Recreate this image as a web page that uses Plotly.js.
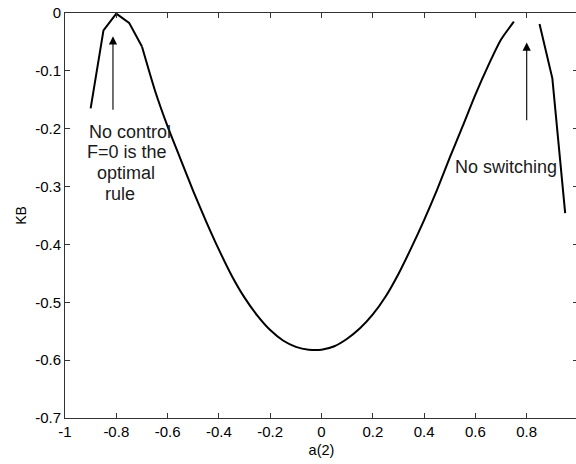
<!DOCTYPE html>
<html><head><meta charset="utf-8">
<script src="https://cdn.plot.ly/plotly-3.0.1.min.js"></script>
<style>html,body{margin:0;padding:0;overflow:hidden;background:#fff}#plot{width:592px;height:464px}</style>
</head><body><div id="plot"></div>
<script>
// main branch a(2) and KB values
const a2Main = [-0.9,-0.85,-0.8,-0.75,-0.7,-0.65,-0.6,-0.55,-0.5,-0.45,-0.4,-0.35,-0.3,-0.25,-0.2,-0.15,-0.1,-0.05,0,0.05,0.1,0.15,0.2,0.25,0.3,0.35,0.4,0.45,0.5,0.55,0.6,0.65,0.7,0.75];
const kbMain = [-0.165,-0.030,-0.001,-0.017,-0.058,-0.133,-0.196,-0.252,-0.308,-0.360,-0.409,-0.454,-0.492,-0.523,-0.548,-0.566,-0.577,-0.582,-0.582,-0.576,-0.563,-0.545,-0.521,-0.490,-0.451,-0.406,-0.358,-0.306,-0.250,-0.196,-0.141,-0.091,-0.046,-0.015];
// right branch
const a2Right = [0.85,0.9,0.95];
const kbRight = [-0.019,-0.113,-0.346];
// ticks
const xTickVals = [-1,-0.8,-0.6,-0.4,-0.2,0,0.2,0.4,0.6,0.8];
const xTickText = ['-1','-0.8','-0.6','-0.4','-0.2','0','0.2','0.4','0.6','0.8'];
const yTickVals = [0,-0.1,-0.2,-0.3,-0.4,-0.5,-0.6,-0.7];
const yTickText = ['0','-0.1','-0.2','-0.3','-0.4','-0.5','-0.6','-0.7'];
// annotation texts
const leftNoteLines = ['No control','F=0 is the','optimal','rule'];
const rightNote = 'No switching';

const FONT = 'Liberation Sans, Arial, sans-serif';
const lineStyle = {color:'#000', width:2};
const splitAt = 4; // index of a(2) = -0.7
const traces = [
  {x:a2Main.slice(0, splitAt+1), y:kbMain.slice(0, splitAt+1), type:'scatter', mode:'lines', line:lineStyle, hoverinfo:'skip'},
  {x:a2Main.slice(splitAt), y:kbMain.slice(splitAt), type:'scatter', mode:'lines', line:Object.assign({shape:'spline', smoothing:0.6}, lineStyle), hoverinfo:'skip'},
  {x:a2Right, y:kbRight, type:'scatter', mode:'lines', line:lineStyle, hoverinfo:'skip'}
];

const leftPos = [[-0.748,-0.205],[-0.758,-0.2406],[-0.761,-0.277],[-0.786,-0.313]];
const annotations = leftNoteLines.map((t,i)=>({
  x:leftPos[i][0], y:leftPos[i][1], xref:'x', yref:'y', text:t, showarrow:false,
  xanchor:'center', yanchor:'middle', font:{family:FONT, size:18, color:'#1a1a1a'}
}));
annotations.push({x:0.718, y:-0.2655, xref:'x', yref:'y', text:rightNote, showarrow:false,
  xanchor:'center', yanchor:'middle', font:{family:FONT, size:18, color:'#1a1a1a'}});
// arrows
annotations.push({x:-0.813, y:-0.040, ax:-0.813, ay:-0.170, xref:'x', yref:'y', axref:'x', ayref:'y',
  text:'', showarrow:true, arrowhead:2, arrowsize:1.5, arrowwidth:1.1, arrowcolor:'#000', standoff:0});
annotations.push({x:0.800, y:-0.051, ax:0.800, ay:-0.188, xref:'x', yref:'y', axref:'x', ayref:'y',
  text:'', showarrow:true, arrowhead:2, arrowsize:1.5, arrowwidth:1.1, arrowcolor:'#000', standoff:0});

const axisCommon = {
  showgrid:false, zeroline:false, showline:true, linecolor:'#333', linewidth:1,
  ticks:'inside', ticklen:5, tickcolor:'#333', tickwidth:1, mirror:'ticks',
  tickfont:{family:FONT, size:15, color:'#000'}
};
const layout = {
  width:592, height:464,
  margin:{l:65, r:14, t:13, b:46, pad:0},
  paper_bgcolor:'#fff', plot_bgcolor:'#fff',
  showlegend:false,
  xaxis:Object.assign({}, axisCommon, {
    range:[-1,1], tickmode:'array', tickvals:xTickVals, ticktext:xTickText,
    title:{text:'a(2)', font:{family:FONT, size:14.5, color:'#000'}, standoff:5}
  }),
  yaxis:Object.assign({}, axisCommon, {
    range:[-0.7,0], tickmode:'array', tickvals:yTickVals, ticktext:yTickText,
    title:{text:'KB', font:{family:FONT, size:14, color:'#000'}, standoff:5}
  }),
  annotations:annotations
};
Plotly.newPlot('plot', traces, layout, {staticPlot:true, displayModeBar:false});
</script>
</body></html>
